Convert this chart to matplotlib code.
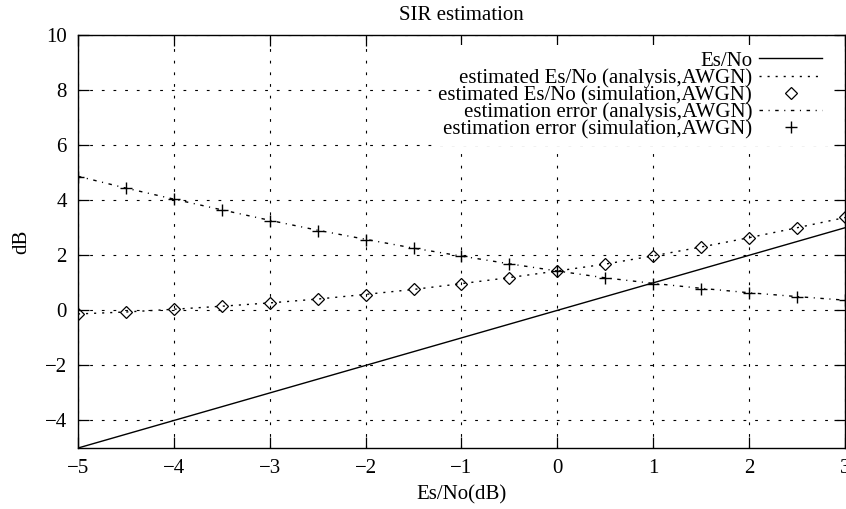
import matplotlib.pyplot as plt
import numpy as np

# ---------------- Data ----------------
esno = np.array([-5, -4.5, -4, -3.5, -3, -2.5, -2, -1.5, -1, -0.5, 0, 0.5, 1, 1.5, 2, 2.5, 3])

est_analysis = np.array([-0.13, -0.06, 0.04, 0.15, 0.27, 0.41, 0.58, 0.76, 0.97, 1.19, 1.43, 1.68, 1.98, 2.3, 2.64, 3.0, 3.37])
est_sim      = np.array([-0.12, -0.05, 0.05, 0.16, 0.27, 0.40, 0.57, 0.76, 0.97, 1.19, 1.43, 1.69, 1.99, 2.30, 2.64, 3.00, 3.39])
err_analysis = np.array([4.87, 4.44, 4.04, 3.65, 3.27, 2.91, 2.58, 2.26, 1.97, 1.69, 1.43, 1.18, 0.98, 0.8, 0.64, 0.5, 0.37])
err_sim      = np.array([4.85, 4.45, 4.05, 3.65, 3.25, 2.90, 2.57, 2.27, 1.97, 1.68, 1.42, 1.18, 0.97, 0.79, 0.64, 0.49, 0.36])

xticks = [-5, -4, -3, -2, -1, 0, 1, 2, 3]
yticks = [-4, -2, 0, 2, 4, 6, 8, 10]

# ---------------- Plot ----------------
plt.rcParams['font.family'] = 'Liberation Serif'
fs = 15

fig = plt.figure(figsize=(8.46, 5.09), dpi=100)
ax = fig.add_axes([0.0922, 0.1198, 0.9066, 0.8114])

ax.plot(esno, esno, color='black', linewidth=1.0, label="Es/No")
ax.plot(esno, est_analysis, color='black', linewidth=1.0, linestyle=(0, (1.5, 4.3)),
        label="estimated Es/No (analysis,AWGN)")
ax.plot(esno, est_sim, linestyle='none', marker='D', markersize=6.5, markerfacecolor='none',
        markeredgecolor='black', markeredgewidth=0.9, label="estimated Es/No (simulation,AWGN)")
ax.plot(esno, err_analysis, color='black', linewidth=1.0, linestyle=(0, (2.5, 4, 0.8, 4)),
        label="estimation error (analysis,AWGN)")
ax.plot(esno, err_sim, linestyle='none', marker='+', markersize=8, markeredgecolor='black',
        markeredgewidth=1.0, label="estimation error (simulation,AWGN)")

ax.set_xlim(-5, 3)
ax.set_ylim(-5, 10)
ax.set_xticks(xticks)
ax.set_yticks(yticks)
ax.set_xticklabels([str(t).replace('-', '\u2212') for t in xticks], fontsize=fs)
ax.set_yticklabels([str(t).replace('-', '\u2212') for t in yticks], fontsize=fs)
ax.tick_params(direction='in', top=True, right=True, length=8, width=0.9, pad=8)
ax.grid(True, color='black', linestyle=(0, (2.5, 8)), linewidth=0.8)
for s in ax.spines.values():
    s.set_linewidth(1.0)

ax.set_title("SIR estimation", fontsize=fs, pad=11)
ax.set_xlabel("Es/No(dB)", fontsize=fs, labelpad=5)
ax.set_ylabel("dB", fontsize=fs, labelpad=10)

leg = ax.legend(loc='upper right', bbox_to_anchor=(0.978, 0.976), markerfirst=False,
                fontsize=fs, frameon=True, fancybox=False, edgecolor='none',
                facecolor='white', framealpha=1, handlelength=3.0, handletextpad=0.35,
                labelspacing=-0.12, borderaxespad=0, borderpad=0.3)

fig.savefig("out.png", dpi=100)
